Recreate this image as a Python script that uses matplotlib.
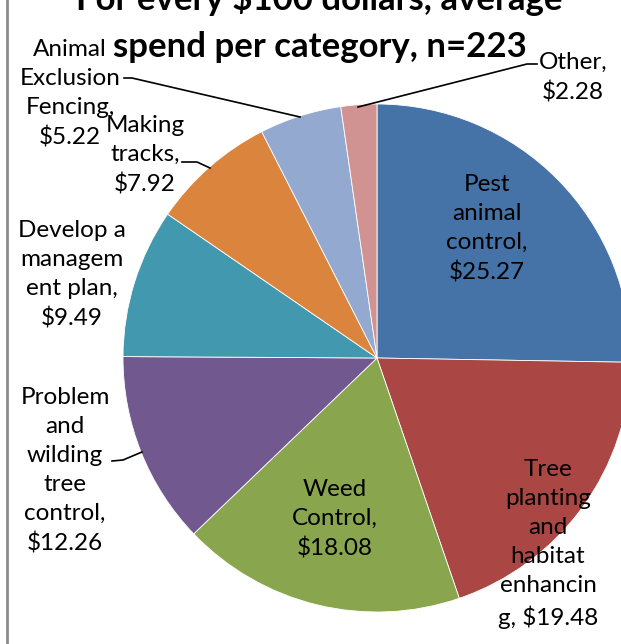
import matplotlib.pyplot as plt

# Average spend per $100, by category (n=223)
categories = ["Pest animal control", "Tree planting and habitat enhancing",
              "Weed Control", "Problem and wilding tree control",
              "Develop a management plan", "Making tracks",
              "Animal Exclusion Fencing", "Other"]
spend = [25.27, 19.48, 18.08, 12.26, 9.49, 7.92, 5.22, 2.28]
colors = ["#4572A7", "#AA4643", "#89A54E", "#71588F",
          "#4198AF", "#DB843D", "#93A9CF", "#D19392"]

# wrapped label text, value goes where {} is
label_fmt = ["Pest\nanimal\ncontrol,\n${:.2f}",
             "Tree\nplanting\nand\nhabitat\nenhancin\ng, ${:.2f}",
             "Weed\nControl,\n${:.2f}",
             "Problem\nand\nwilding\ntree\ncontrol,\n${:.2f}",
             "Develop a\nmanagem\nent plan,\n${:.2f}",
             "Making\ntracks,\n${:.2f}",
             "Animal\nExclusion\nFencing,\n${:.2f}",
             "Other,\n${:.2f}"]
# label centres in pixel units
label_pos = [(487, 229), (548, 544), (335, 519), (65, 471),
             (72, 275), (145, 155), (70, 94), (573, 78)]

W, H = 621, 644
plt.rcParams['font.family'] = ['Lato', 'DejaVu Sans']

fig = plt.figure(figsize=(W / 100, H / 100), dpi=100)
ax = fig.add_axes([0, 0, 1, 1])

# y axis is flipped so coords read like pixels; start at the top, go clockwise
ax.pie(spend, colors=colors, startangle=-90, counterclock=True,
       center=(377, 358), radius=254,
       wedgeprops=dict(edgecolor='white', linewidth=0.6))
ax.set_xlim(0, W)
ax.set_ylim(H, 0)
ax.set_aspect('auto')
ax.axis('off')

for fmt, v, (x, y) in zip(label_fmt, spend, label_pos):
    ax.text(x, y, fmt.format(v), ha='center', va='center', fontsize=17.5,
            linespacing=1.47, color='black')

# leader lines
ax.plot([124, 132, 300], [78, 78, 117], color='black', lw=1.2)
ax.plot([537, 527, 358], [64, 64, 107], color='black', lw=1.2)
ax.plot([182, 197, 210], [162, 162, 168], color='black', lw=1.2)
ax.plot([112, 123, 142], [461, 460, 452], color='black', lw=1.2)

ax.text(319, 10, "For every $100 dollars, average", ha='center',
        va='baseline', fontsize=25, fontweight='bold')
ax.text(320, 57, "spend per category, n=223", ha='center',
        va='baseline', fontsize=25, fontweight='bold')

ax.axvline(7, color='#8c8c8c', lw=2)

fig.savefig('out.png', dpi=100)
